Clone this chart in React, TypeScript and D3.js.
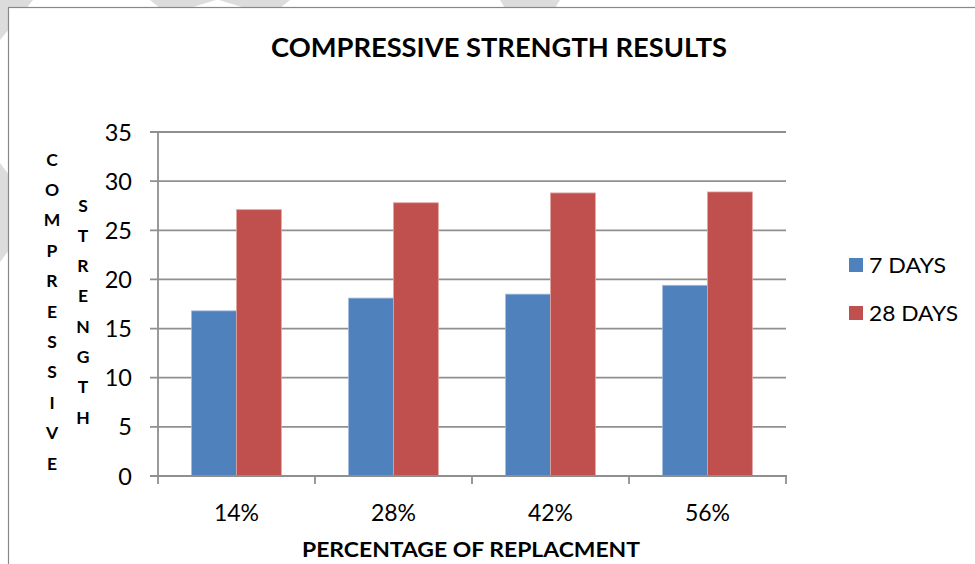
import React from "react";
import * as d3 from "d3";

const categories = ["14%", "28%", "42%", "56%"];
const seriesNames = ["7 DAYS", "28 DAYS"];
const days7 = [16.8, 18.1, 18.5, 19.4];
const days28 = [27.1, 27.8, 28.8, 28.9];
const yTicks = [0, 5, 10, 15, 20, 25, 30, 35];
const colors = ["#4F81BD", "#C0504D"];
const yTitle1 = "COMPRESSIVE";
const yTitle2 = "STRENGTH";

export default function App() {
  const W = 975, H = 564;
  const x = d3.scaleBand<string>().domain(categories).range([158, 786]).paddingInner(0).paddingOuter(0);
  const xs = d3.scaleBand<string>().domain(seriesNames).range([0, x.bandwidth()]).paddingInner(0).paddingOuter(0.75);
  const y = d3.scaleLinear().domain([0, 35]).range([476, 132]);
  const data = [days7, days28];
  const font = "Lato, 'Open Sans', sans-serif";

  return (
    <svg width={W} height={H} style={{ position: "absolute", left: 0, top: 0 }} fontFamily={font}>
      <rect x={0} y={0} width={W} height={H} fill="#fff" />
      {/* watermark bands outside frame */}
      <g fill="#dcdcdc">
        <polygon points="0,0 33,0 0,40" />
        <polygon points="150,0 216,0 190,8 160,8" />
        <polygon points="219,0 290,0 280,8 245,8" />
        <polygon points="500,0 560,0 555,8 505,8" />
        <polygon points="0,163 9,175 9,250 0,262" />
      </g>
      <rect x={8.5} y={7.5} width={W} height={H} fill="#fff" stroke="#888" strokeWidth={1.2} />

      <text x={499} y={57} textAnchor="middle" fontWeight="bold" fontSize={26} textLength={456} lengthAdjust="spacingAndGlyphs" fill="#000">
        COMPRESSIVE STRENGTH RESULTS
      </text>

      {/* gridlines */}
      {yTicks.map((t) => (
        <line key={"g" + t} x1={150} x2={786} y1={y(t)} y2={y(t)} stroke="#8f8f8f" strokeWidth={1.8} />
      ))}
      {yTicks.map((t) => (
        <text key={"yt" + t} x={132} y={y(t) + 8.5} textAnchor="end" fontSize={23.5} fill="#000">
          {t}
        </text>
      ))}

      {/* bars */}
      {data.map((vals, si) =>
        vals.map((v, i) => (
          <rect
            key={si + "-" + i}
            x={(x(categories[i]) as number) + (xs(seriesNames[si]) as number)}
            y={y(v)}
            width={xs.bandwidth()}
            height={y(0) - y(v)}
            fill={colors[si]}
            stroke={si === 0 ? "#9bb6da" : "#e0a3a1"}
            strokeWidth={0.8}
          />
        ))
      )}

      {/* axes */}
      <line x1={158} x2={158} y1={132} y2={477} stroke="#8f8f8f" strokeWidth={1.8} />
      <line x1={150} x2={787} y1={476} y2={476} stroke="#8f8f8f" strokeWidth={1.8} />
      {[...categories.map((c) => x(c) as number), x.range()[1]].map((px, i) => (
        <line key={"xt" + i} x1={px} x2={px} y1={476} y2={484} stroke="#8f8f8f" strokeWidth={1.8} />
      ))}
      {categories.map((c) => (
        <text key={c} x={(x(c) as number) + x.bandwidth() / 2} y={521} textAnchor="middle" fontSize={23} fill="#000">
          {c}
        </text>
      ))}
      <text x={471} y={557} textAnchor="middle" fontWeight="bold" fontSize={21} textLength={338} lengthAdjust="spacingAndGlyphs" fill="#000">
        PERCENTAGE OF REPLACMENT
      </text>

      {/* y title stacked letters */}
      {yTitle1.split("").map((ch, i) => (
        <text key={"a" + i} x={52} y={159 + i * 30.4 + 6.5} textAnchor="middle" fontWeight="bold" fontSize={17.5} fill="#000">
          {ch}
        </text>
      ))}
      {yTitle2.split("").map((ch, i) => (
        <text key={"b" + i} x={83} y={205 + i * 30.3 + 6.5} textAnchor="middle" fontWeight="bold" fontSize={17.5} fill="#000">
          {ch}
        </text>
      ))}

      {/* legend */}
      {seriesNames.map((s, i) => (
        <g key={s}>
          <rect x={849} y={258 + i * 48} width={14} height={14} fill={colors[i]} />
          <text x={869} y={273 + i * 48} fontSize={21.5} textLength={i === 0 ? 77 : 89} lengthAdjust="spacingAndGlyphs" fill="#000">
            {s}
          </text>
        </g>
      ))}
    </svg>
  );
}
